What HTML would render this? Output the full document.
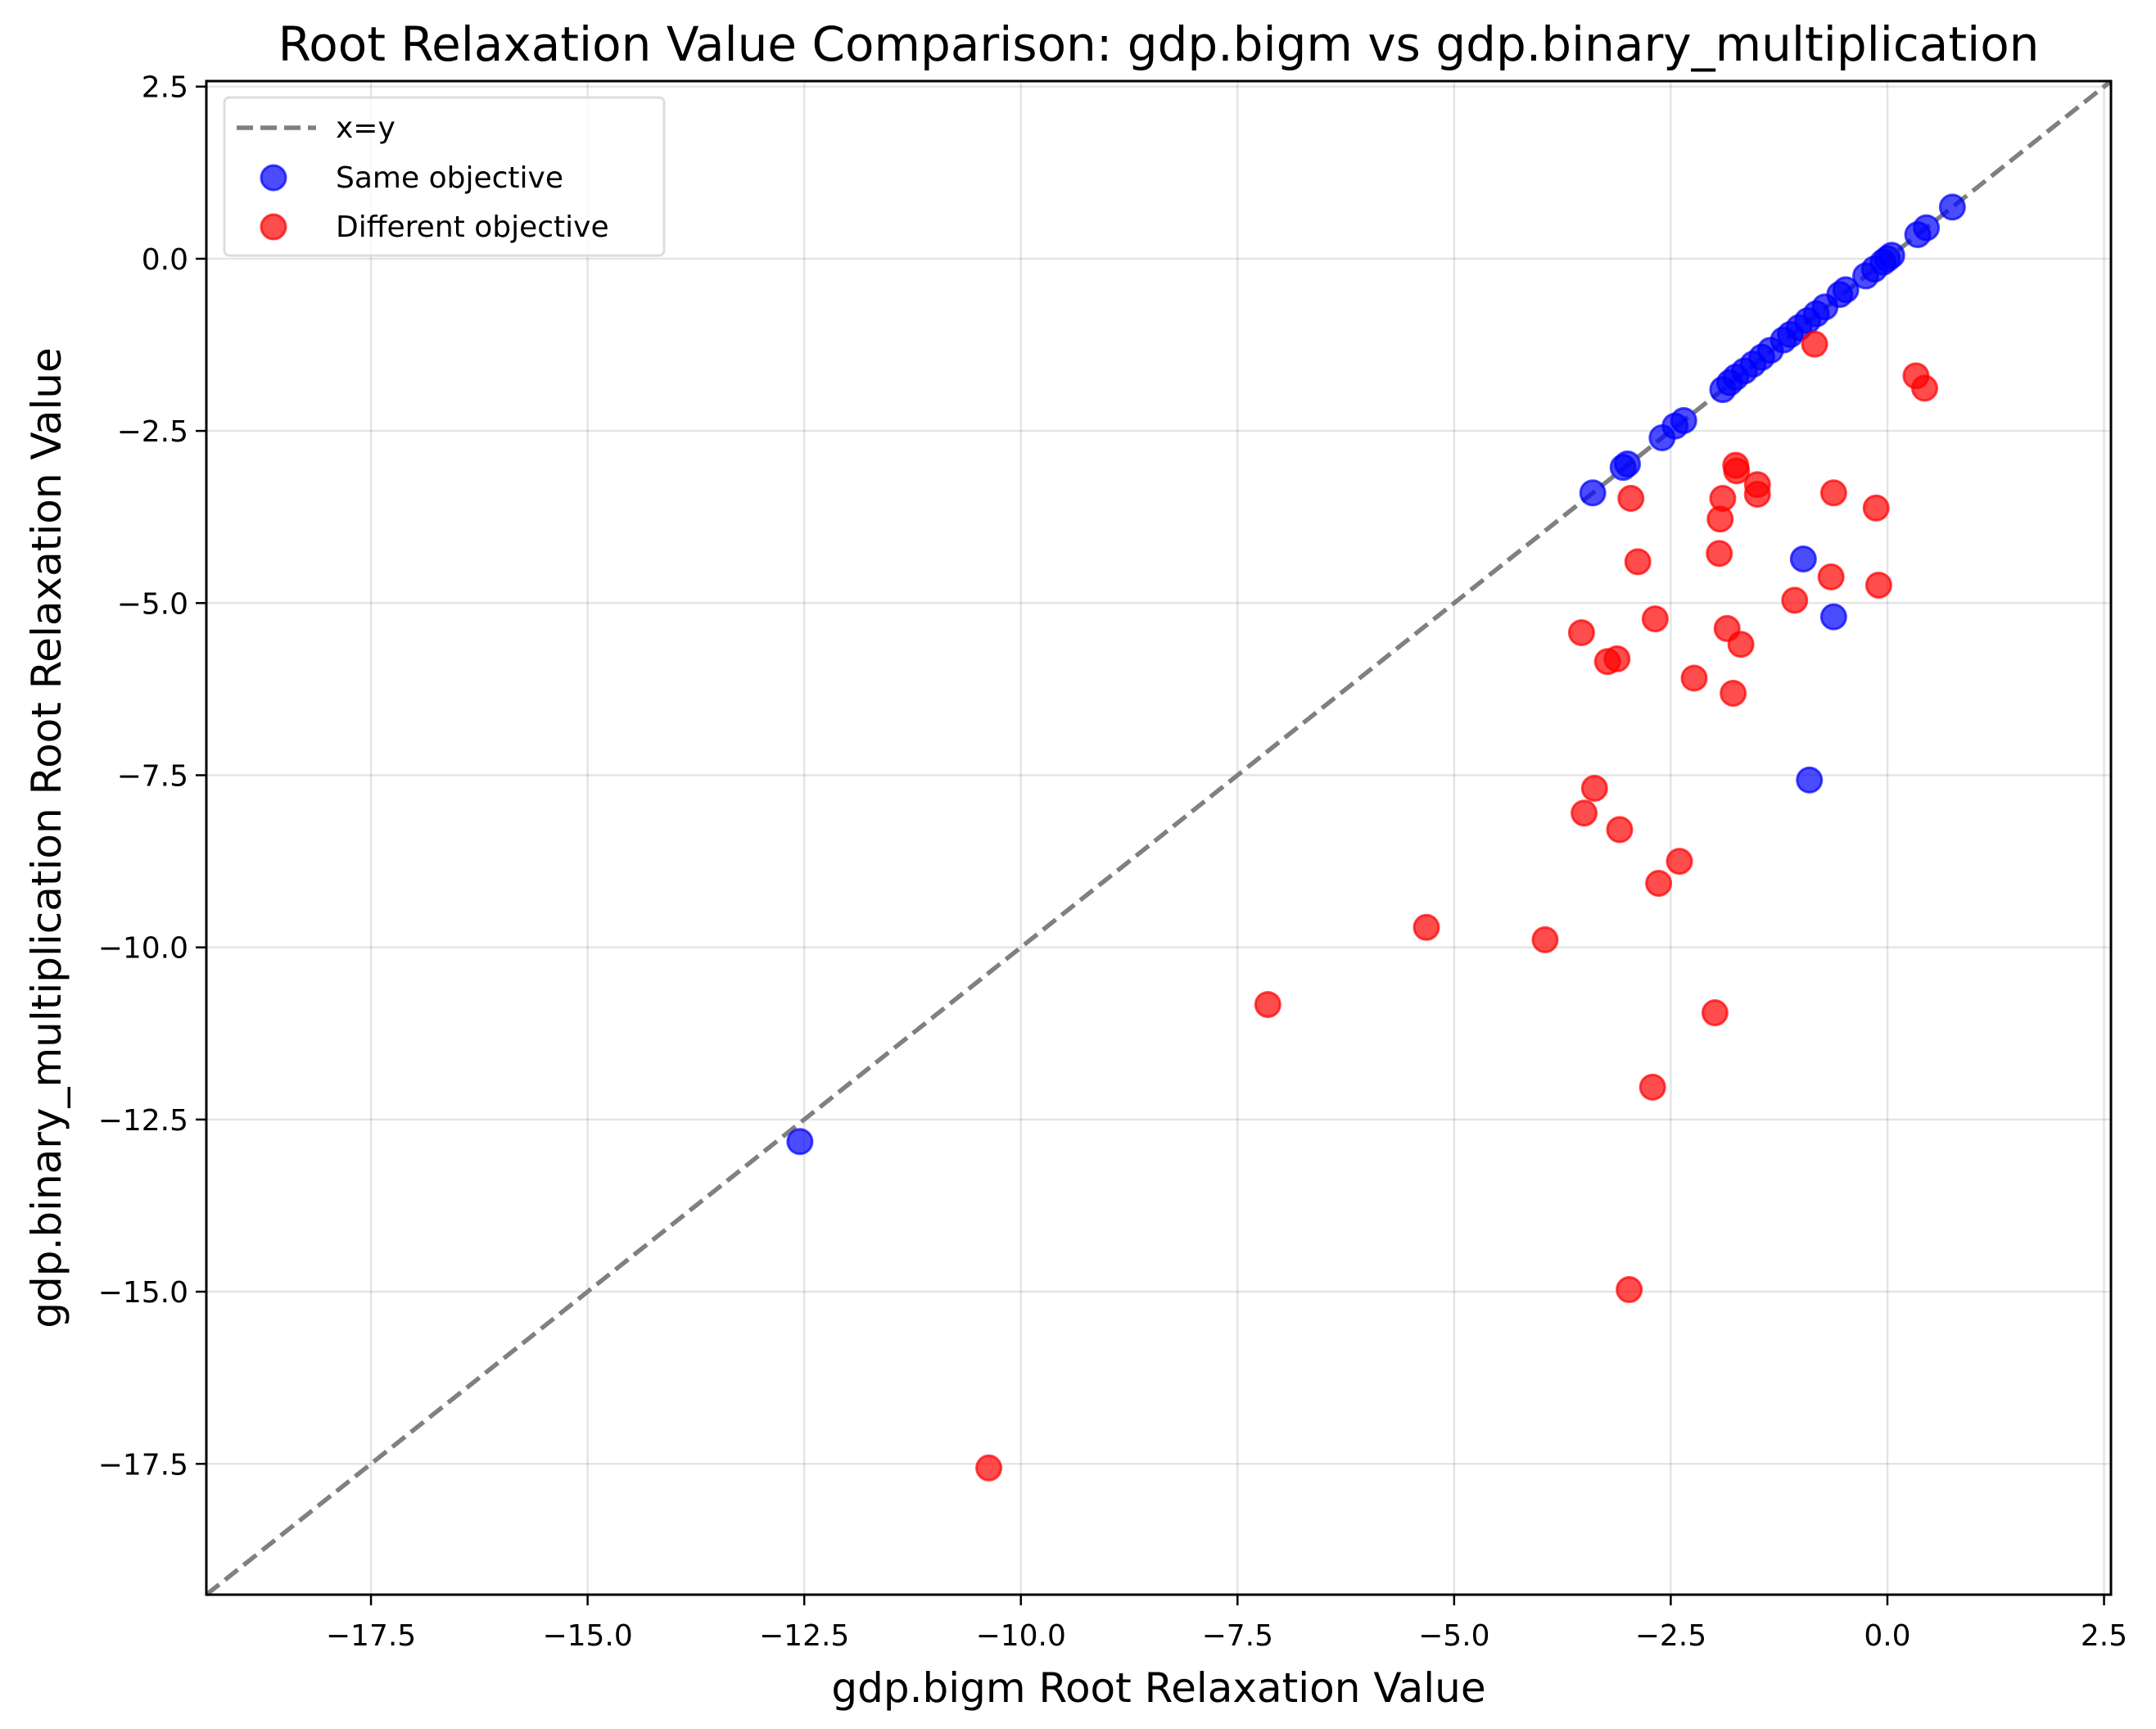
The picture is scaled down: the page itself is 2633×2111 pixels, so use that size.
<!DOCTYPE html>
<html><head><meta charset="utf-8"><style>
html,body{margin:0;padding:0;background:#fff}
svg{display:block;font-family:"DejaVu Sans","Liberation Sans",sans-serif}
</style></head><body>
<svg id="chart" width="2633" height="2111" viewBox="0 0 2633 2111" xmlns="http://www.w3.org/2000/svg">
<rect width="2633" height="2111" fill="#fff"/>
<g id="grid"></g>
<g id="diag"></g>
<g id="pts"></g>
<g id="axes"></g>
<text x="1415" y="74" font-size="58" text-anchor="middle">Root Relaxation Value Comparison: gdp.bigm vs gdp.binary_multiplication</text>
<text x="1415" y="2078" font-size="50" text-anchor="middle">gdp.bigm Root Relaxation Value</text>
<text x="0" y="0" font-size="50" text-anchor="middle" transform="translate(74,1023) rotate(-90)">gdp.binary_multiplication Root Relaxation Value</text>
<g>
<rect x="274" y="119" width="537" height="193" rx="6" fill="#fff" fill-opacity="0.8" stroke="#ddd" stroke-width="3"/>
<line x1="289" y1="156" x2="386" y2="156" stroke="#808080" stroke-width="5.5" stroke-dasharray="20,9"/>
<text x="410" y="168" font-size="36">x=y</text>
<circle cx="334" cy="217" r="15" fill="rgba(0,0,255,0.7)" stroke="rgba(0,0,255,0.7)" stroke-width="3"/>
<text x="410" y="229" font-size="36">Same objective</text>
<circle cx="334" cy="277" r="15" fill="rgba(255,0,0,0.7)" stroke="rgba(255,0,0,0.7)" stroke-width="3"/>
<text x="410" y="289" font-size="36">Different objective</text>
</g>
</svg>
<script>
const xTicks = [-17.5,-15,-12.5,-10,-7.5,-5,-2.5,0,2.5];
const yTicks = [-17.5,-15,-12.5,-10,-7.5,-5,-2.5,0,2.5];
const sameX = [0.75,0.45,0.35,0.05,0.0,-0.05,-0.15,-0.25,-0.48,-0.55,-0.72,-0.82,-0.92,-1.02,-1.12,-1.2,-1.35,-1.45,-1.55,-1.65,-1.75,-1.82,-1.9,-2.35,-2.45,-2.6,-3.0,-3.05,-3.4,-0.97,-0.62,-0.9,-12.55];
const sameY = [0.75,0.45,0.35,0.05,0.0,-0.05,-0.15,-0.25,-0.45,-0.52,-0.7,-0.8,-0.9,-1.0,-1.1,-1.18,-1.33,-1.43,-1.53,-1.63,-1.72,-1.8,-1.9,-2.35,-2.43,-2.6,-2.98,-3.03,-3.4,-4.36,-5.2,-7.57,-12.82];
const diffX = [-0.84,0.33,0.43,-1.75,-1.74,-1.5,-1.5,-0.62,-0.13,-2.96,-1.9,-1.93,-1.94,-2.88,-0.65,-0.1,-1.07,-2.68,-3.53,-1.85,-1.69,-3.12,-3.23,-2.23,-1.78,-3.38,-3.5,-3.09,-2.4,-2.64,-5.32,-3.95,-7.15,-1.99,-2.71,-2.98,-10.37];
const diffY = [-1.24,-1.7,-1.88,-3.0,-3.08,-3.28,-3.42,-3.4,-3.62,-3.48,-3.48,-3.78,-4.28,-4.4,-4.62,-4.74,-4.96,-5.23,-5.43,-5.37,-5.6,-5.81,-5.85,-6.09,-6.31,-7.69,-8.05,-8.29,-8.75,-9.07,-9.71,-9.89,-10.83,-10.95,-12.03,-14.97,-17.56];
const L=252,R=2578,T=99,B=1947, MIN=-19.4, MAX=2.58;
const sx=v=>L+(v-MIN)/(MAX-MIN)*(R-L);
const sy=v=>B-(v-MIN)/(MAX-MIN)*(B-T);
const NS='http://www.w3.org/2000/svg';
function mk(tag,attrs,parent){const e=document.createElementNS(NS,tag);for(const k in attrs)e.setAttribute(k,attrs[k]);parent.appendChild(e);return e;}
const fmt=v=>(v<0?'\u2212':'')+Math.abs(v).toFixed(1);
const grid=document.getElementById('grid'),axes=document.getElementById('axes');
xTicks.forEach(v=>{
  const g=mk('line',{x1:sx(v),x2:sx(v),y1:T,y2:B,stroke:'#000','stroke-opacity':0.1,'stroke-width':2.5},grid);
  
  
  const t=mk('line',{x1:sx(v),x2:sx(v),y1:B,y2:B+13,stroke:'#000','stroke-width':2.5},axes);
  
  
  const l=mk('text',{x:sx(v),y:B+62,'font-size':36,'text-anchor':'middle'},axes);
  l.textContent=fmt(v);
  
  
});
yTicks.forEach(v=>{
  const g=mk('line',{x1:L,x2:R,y1:sy(v),y2:sy(v),stroke:'#000','stroke-opacity':0.1,'stroke-width':2.5},grid);
  
  
  const t=mk('line',{x1:L-13,x2:L,y1:sy(v),y2:sy(v),stroke:'#000','stroke-width':2.5},axes);
  
  
  const l=mk('text',{x:L-22,y:sy(v)+13,'font-size':36,'text-anchor':'end'},axes);
  l.textContent=fmt(v);
  
  
});
const frame=mk('rect',{x:L,y:T,width:R-L,height:B-T,fill:'none',stroke:'#000','stroke-width':3},axes);


const d=mk('line',{x1:sx(MIN),y1:sy(MIN),x2:sx(MAX),y2:sy(MAX),stroke:'#808080','stroke-width':5.5,'stroke-dasharray':'20,9'},document.getElementById('diag'));


const pts=document.getElementById('pts');
sameX.forEach((x,i)=>{
  const c=mk('circle',{cx:sx(x),cy:sy(sameY[i]),r:15,fill:'rgba(0,0,255,0.7)',stroke:'rgba(0,0,255,0.7)','stroke-width':3},pts);
  
  
});
diffX.forEach((x,i)=>{
  const c=mk('circle',{cx:sx(x),cy:sy(diffY[i]),r:15,fill:'rgba(255,0,0,0.7)',stroke:'rgba(255,0,0,0.7)','stroke-width':3},pts);
  
  
});
</script>
</body></html>
